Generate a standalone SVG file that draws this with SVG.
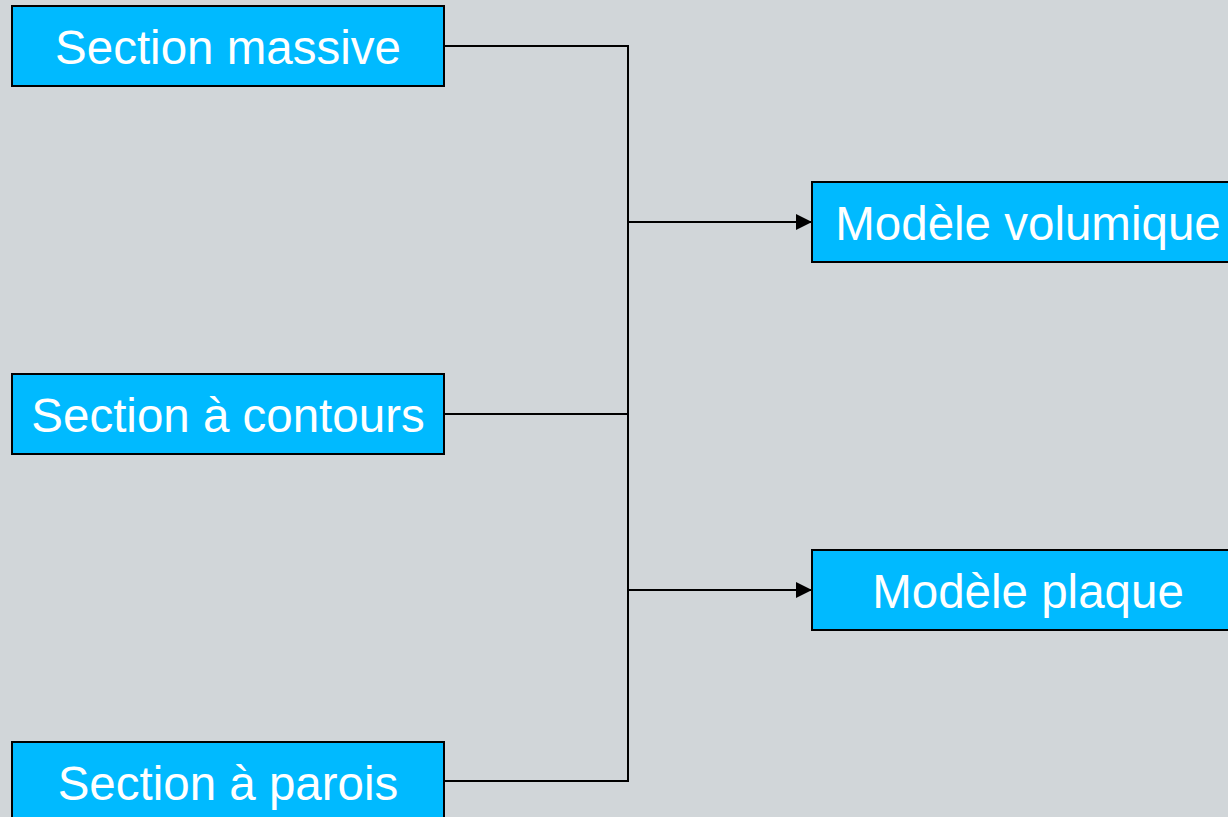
<svg xmlns="http://www.w3.org/2000/svg" width="1228" height="817" viewBox="0 0 1228 817">
<defs>
<style>
.box{fill:#00BAFF;stroke:#000;stroke-width:2}
.lbl{font-family:"Liberation Sans",Arial,sans-serif;font-size:47.5px;fill:#fff;text-anchor:middle}
.ln{fill:none;stroke:#000;stroke-width:2}
</style>
<marker id="ah" viewBox="0 0 10 10" refX="10" refY="5" markerWidth="16" markerHeight="16" markerUnits="userSpaceOnUse" orient="auto">
<path d="M0,0 L10,5 L0,10 z" fill="#000"/>
</marker>
</defs>
<rect width="1228" height="817" fill="#D1D6D9"/>
<g id="connectors">
<polyline class="ln" points="444,46 628,46 628,781 444,781"/>
<line class="ln" x1="444" y1="414" x2="628" y2="414"/>
<line class="ln" x1="628" y1="222" x2="812" y2="222" marker-end="url(#ah)"/>
<line class="ln" x1="628" y1="590" x2="812" y2="590" marker-end="url(#ah)"/>
</g>
<g id="section-massive">
<rect class="box" x="12" y="6" width="432" height="80"/>
<text class="lbl" x="228" y="64">Section massive</text>
</g>
<g id="section-contours">
<rect class="box" x="12" y="374" width="432" height="80"/>
<text class="lbl" x="228" y="432">Section à contours</text>
</g>
<g id="section-parois">
<rect class="box" x="12" y="742" width="432" height="80"/>
<text class="lbl" x="228" y="800">Section à parois</text>
</g>
<g id="modele-volumique">
<rect class="box" x="812" y="182" width="432" height="80"/>
<text class="lbl" x="1028" y="240">Modèle volumique</text>
</g>
<g id="modele-plaque">
<rect class="box" x="812" y="550" width="432" height="80"/>
<text class="lbl" x="1028" y="608">Modèle plaque</text>
</g>
</svg>
